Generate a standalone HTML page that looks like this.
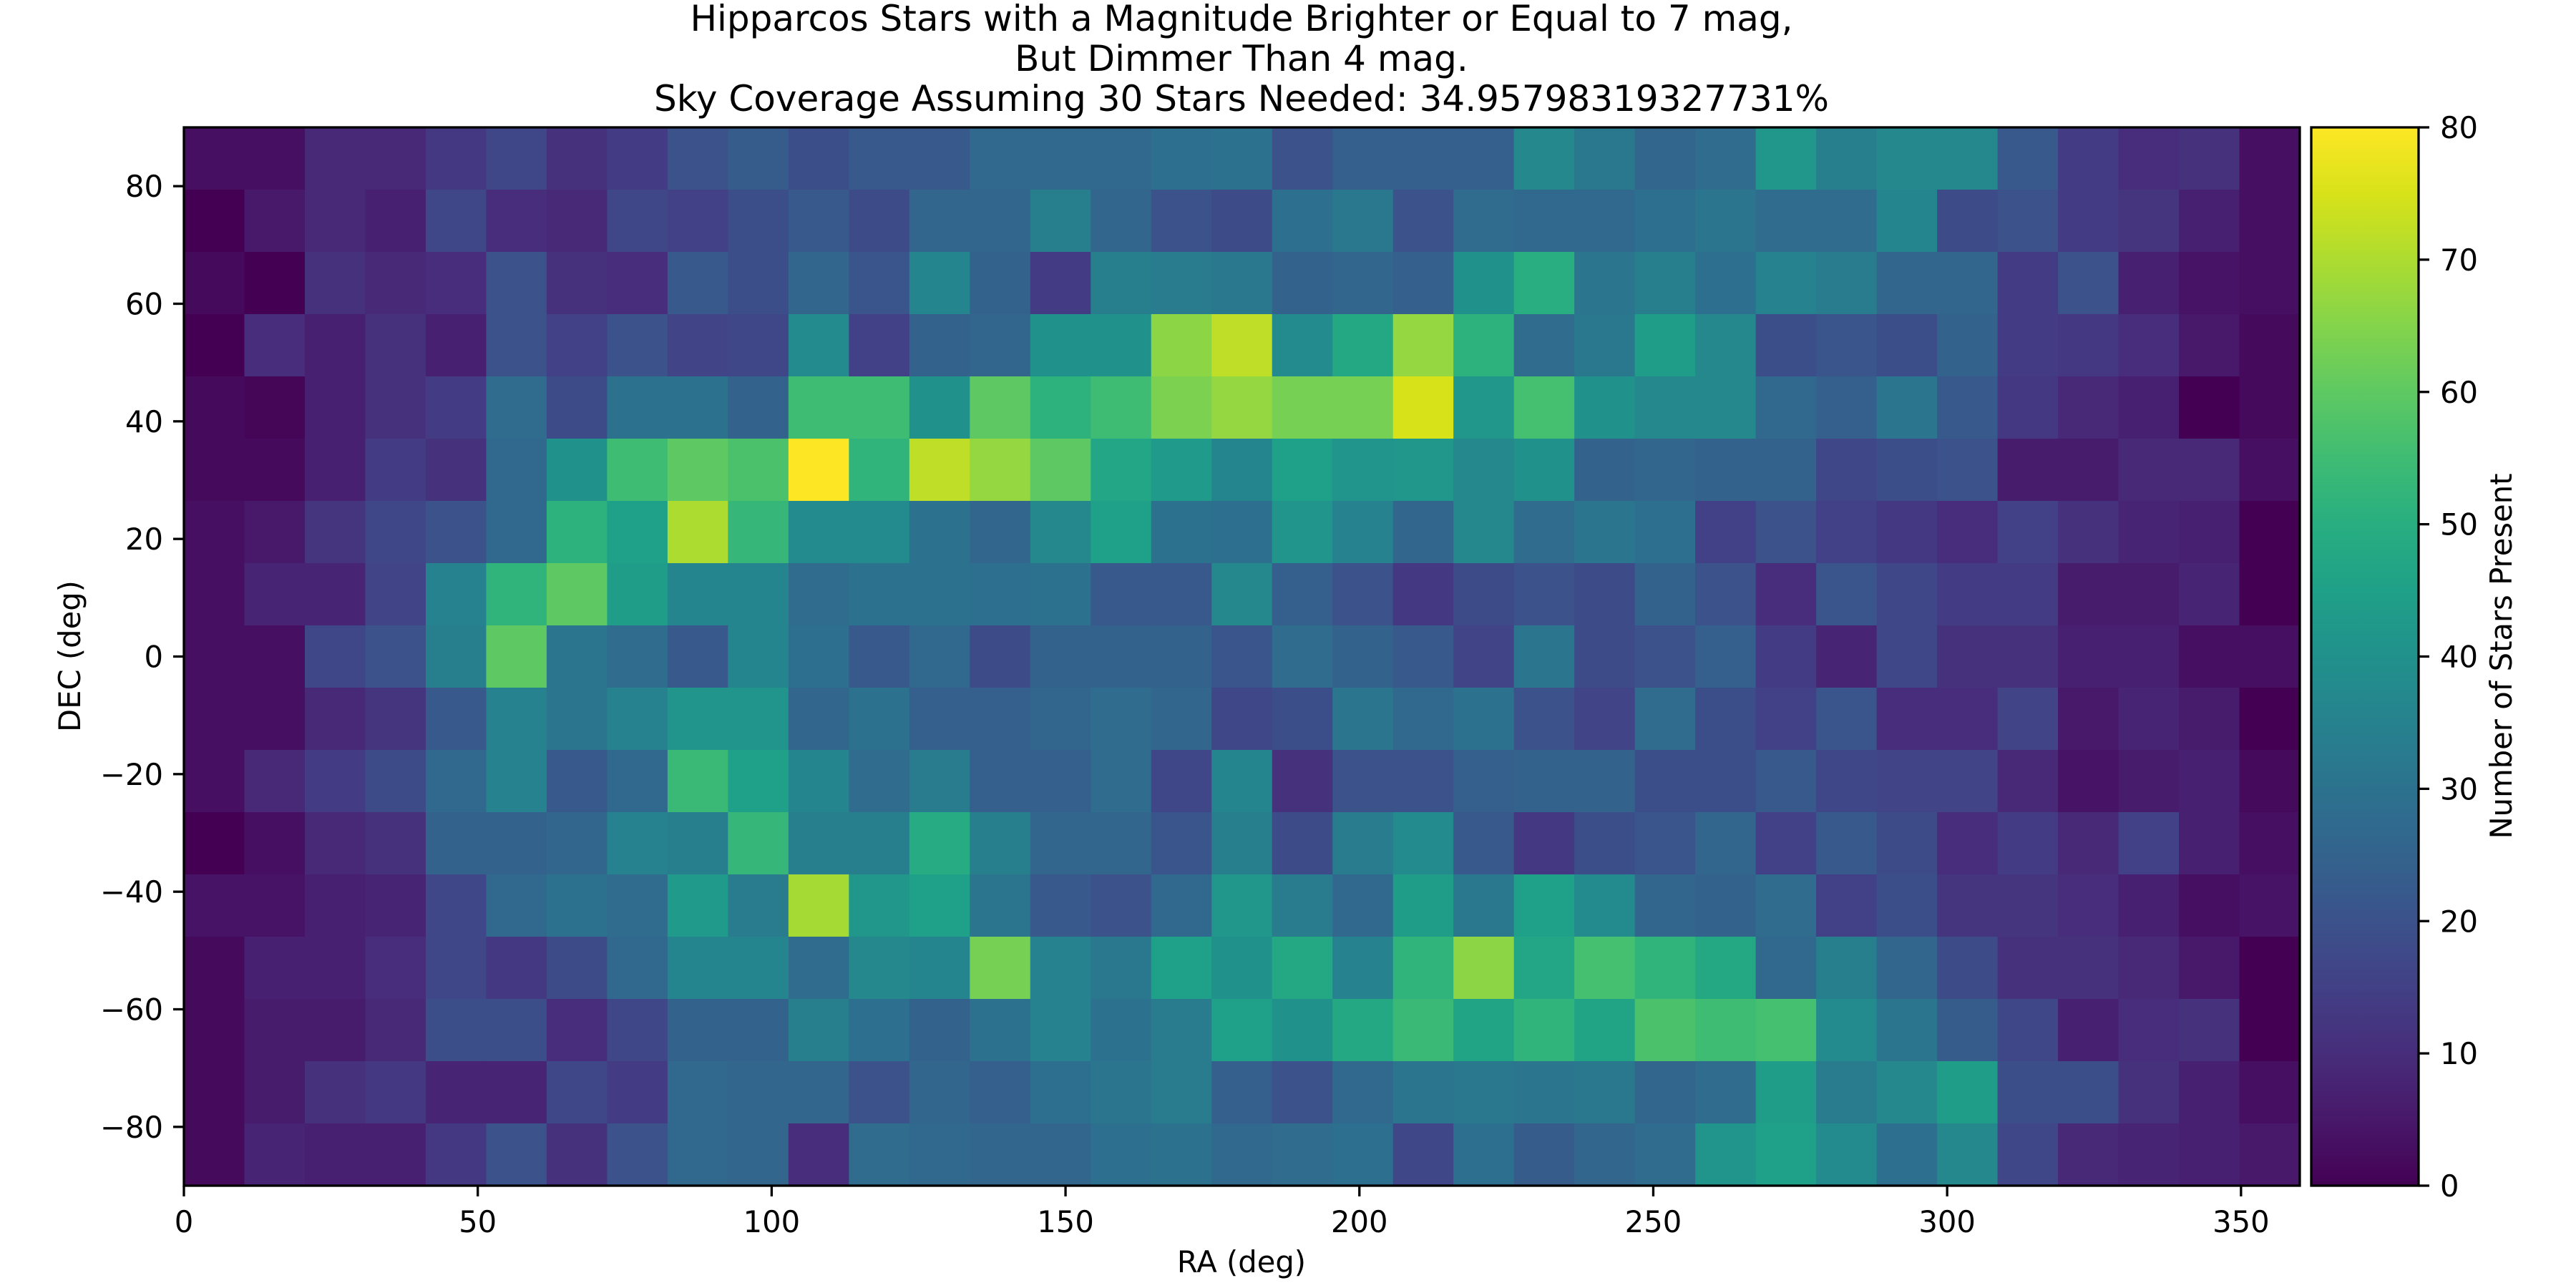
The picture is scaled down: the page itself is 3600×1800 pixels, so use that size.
<!DOCTYPE html>
<html><head><meta charset="utf-8"><style>
html,body{margin:0;padding:0;background:#fff;}
svg{display:block;font-family:"DejaVu Sans","Liberation Sans",sans-serif;}
</style></head><body>
<svg id="chart" width="3600" height="1800" viewBox="0 0 3600 1800" xmlns="http://www.w3.org/2000/svg">
<defs>
<linearGradient id="vir" x1="0" y1="1" x2="0" y2="0">
<stop offset="0" stop-color="#440154"/><stop offset="0.0625" stop-color="#48186a"/><stop offset="0.125" stop-color="#472d7b"/><stop offset="0.1875" stop-color="#424086"/><stop offset="0.25" stop-color="#3b528b"/><stop offset="0.3125" stop-color="#33638d"/><stop offset="0.375" stop-color="#2c728e"/><stop offset="0.4375" stop-color="#26828e"/><stop offset="0.5" stop-color="#21918c"/><stop offset="0.5625" stop-color="#1fa088"/><stop offset="0.625" stop-color="#28ae80"/><stop offset="0.6875" stop-color="#3fbc73"/><stop offset="0.75" stop-color="#5ec962"/><stop offset="0.8125" stop-color="#84d44b"/><stop offset="0.875" stop-color="#addc30"/><stop offset="0.9375" stop-color="#d8e219"/><stop offset="1" stop-color="#fde725"/>
</linearGradient>
</defs>
<g font-size="50" text-anchor="middle" fill="#000">
<text x="1735" y="43">Hipparcos Stars with a Magnitude Brighter or Equal to 7 mag,</text>
<text x="1735" y="99">But Dimmer Than 4 mag.</text>
<text x="1735" y="155">Sky Coverage Assuming 30 Stars Needed: 34.95798319327731%</text>
</g>
<g id="cells"></g>
<rect x="257" y="178" width="2957" height="1479" fill="none" stroke="#000" stroke-width="3.3"/>
<g id="xticks"></g>
<g id="yticks"></g>
<text x="1735" y="1778" font-size="41.7" text-anchor="middle">RA (deg)</text>
<text transform="translate(112,917) rotate(-90)" font-size="41.7" text-anchor="middle">DEC (deg)</text>
<rect x="3230" y="178" width="150" height="1479" fill="url(#vir)" stroke="#000" stroke-width="3.3"/>
<g id="cticks"></g>
<text transform="translate(3510,917) rotate(-90)" font-size="41.7" text-anchor="middle">Number of Stars Present</text>
</svg>
<script>
const raTicks = [0, 50, 100, 150, 200, 250, 300, 350];
const decTicks = [-80, -60, -40, -20, 0, 20, 40, 60, 80];
const cbTicks = [0, 10, 20, 30, 40, 50, 60, 70, 80];
const raRange = [0, 360];
const decRange = [-90, 90];
const cRange = [0, 80];
// counts per cell, rows from DEC +90 (top) down to -90, columns RA 0 -> 360
const row0 = [3,3,9,9,13,17,11,14,20,23,19,22,22,27,27,27,29,30,20,24,24,24,37,32,26,28,42,34,37,37,22,14,10,11,3];
const row1 = [0,5,9,7,17,10,9,17,15,19,22,18,26,26,34,26,20,18,29,32,20,28,27,27,29,31,28,28,36,18,20,14,12,7,3];
const row2 = [2,0,11,9,10,20,11,10,22,19,26,21,36,25,14,34,33,32,25,26,24,40,50,31,34,29,35,33,26,26,14,20,7,4,3];
const row3 = [0,10,7,11,7,20,15,20,16,17,38,15,25,26,40,40,66,72,38,48,67,51,28,32,44,37,19,21,19,25,14,13,10,5,2];
const row4 = [2,1,7,11,14,28,18,30,30,25,55,55,40,60,51,55,64,67,63,63,75,42,56,40,37,37,27,24,31,22,13,9,7,0,2];
const row5 = [2,2,7,14,11,27,40,55,60,57,80,52,72,67,60,47,43,36,45,41,42,37,40,25,26,25,25,17,19,20,6,6,9,9,3];
const row6 = [3,5,12,17,20,27,51,45,70,53,38,38,30,26,37,45,30,29,41,35,26,37,28,31,29,15,20,15,13,10,15,11,8,7,0];
const row7 = [3,8,8,16,35,52,60,44,36,36,28,30,30,29,30,22,22,37,24,20,13,18,20,18,25,20,10,21,17,14,14,6,6,8,0];
const row8 = [3,3,17,20,34,60,31,28,22,36,29,22,27,18,25,25,25,21,28,25,22,16,31,18,20,24,14,8,17,11,11,7,7,3,3];
const row9 = [3,3,9,12,22,35,31,35,41,41,26,30,24,24,26,28,26,17,19,31,27,30,20,16,28,19,15,21,10,10,16,5,8,6,0];
const row10 = [3,9,14,18,27,35,22,27,54,45,36,28,33,24,24,28,17,36,11,20,20,24,25,25,19,19,22,17,16,16,9,4,6,7,2];
const row11 = [0,3,9,11,25,25,26,35,34,53,34,34,49,34,26,26,21,34,18,33,38,22,13,19,21,26,15,22,18,10,14,9,15,7,3];
const row12 = [4,4,7,8,17,27,30,28,43,33,69,42,45,31,22,20,27,42,33,27,44,32,45,38,26,25,28,15,19,12,12,10,7,3,4];
const row13 = [2,7,7,10,17,13,18,27,36,36,28,37,36,63,35,32,45,40,48,35,52,66,47,56,52,48,27,34,26,18,11,11,9,5,0];
const row14 = [2,6,6,9,19,19,10,17,25,25,34,29,25,30,35,30,33,45,40,48,54,46,52,46,57,55,56,38,31,23,17,7,10,11,0];
const row15 = [2,6,11,13,8,8,17,14,27,26,26,20,26,24,29,31,33,24,20,27,31,32,31,32,26,28,44,33,37,44,19,19,11,7,3];
const row16 = [2,8,7,7,13,20,11,20,27,26,10,28,27,26,26,29,30,27,28,29,17,29,23,26,28,41,45,38,29,37,17,9,8,7,5];
const counts = [row0,row1,row2,row3,row4,row5,row6,row7,row8,row9,row10,row11,row12,row13,row14,row15,row16];

const PX0 = 257, PX1 = 3214, PY0 = 178, PY1 = 1657;
function xScale(v){ return PX0 + (v - raRange[0]) / (raRange[1] - raRange[0]) * (PX1 - PX0); }
function yScale(v){ return PY1 - (v - decRange[0]) / (decRange[1] - decRange[0]) * (PY1 - PY0); }
function cScale(v){ return PY1 - (v - cRange[0]) / (cRange[1] - cRange[0]) * (PY1 - PY0); }
const VIR = ["#440154","#48186a","#472d7b","#424086","#3b528b","#33638d","#2c728e","#26828e","#21918c","#1fa088","#28ae80","#3fbc73","#5ec962","#84d44b","#addc30","#d8e219","#fde725"];
function hex(h){ return [parseInt(h.substr(1,2),16),parseInt(h.substr(3,2),16),parseInt(h.substr(5,2),16)]; }
function viridis(v){
  let t = Math.max(0, Math.min(1, (v - cRange[0]) / (cRange[1] - cRange[0]))) * 16;
  let i = Math.min(15, Math.floor(t)), f = t - i;
  const a = hex(VIR[i]), b = hex(VIR[i+1]);
  return "rgb(" + a.map((c,k)=>Math.round(c + (b[k]-c)*f)).join(",") + ")";
}
const NS = "http://www.w3.org/2000/svg";
function mk(tag, attrs, parent){ const e = document.createElementNS(NS, tag); for (const k in attrs) e.setAttribute(k, attrs[k]); parent.appendChild(e); return e; }

const cells = document.getElementById("cells");
const nRows = counts.length;
counts.forEach((row, r) => {
  const nCols = row.length;
  const decHi = decRange[1] - r * (decRange[1]-decRange[0]) / nRows;
  const decLo = decRange[1] - (r+1) * (decRange[1]-decRange[0]) / nRows;
  row.forEach((v, c) => {
    const raLo = raRange[0] + c * (raRange[1]-raRange[0]) / nCols;
    const raHi = raRange[0] + (c+1) * (raRange[1]-raRange[0]) / nCols;
    const x0 = xScale(raLo), x1 = xScale(raHi), y0 = yScale(decHi), y1 = yScale(decLo);
    const el = mk("rect", {x: x0, y: y0, width: x1 - x0 + 0.6, height: y1 - y0 + 0.6, fill: viridis(v)}, cells);
    
    
  });
});

const xt = document.getElementById("xticks");
raTicks.forEach(v => {
  const x = xScale(v);
  const l = mk("line", {x1: x, x2: x, y1: PY1, y2: PY1 + 15, stroke: "#000", "stroke-width": 3.3}, xt);
  
  
  const t = mk("text", {x: x, y: 1722, "font-size": 41.7, "text-anchor": "middle"}, xt);
  t.textContent = String(v);
  
  
});
const yt = document.getElementById("yticks");
decTicks.forEach(v => {
  const y = yScale(v);
  const l = mk("line", {x1: PX0 - 15, x2: PX0, y1: y, y2: y, stroke: "#000", "stroke-width": 3.3}, yt);
  
  
  const t = mk("text", {x: 228, y: y + 15, "font-size": 41.7, "text-anchor": "end"}, yt);
  t.textContent = v < 0 ? "\u2212" + Math.abs(v) : String(v);
  
  
});
const ct = document.getElementById("cticks");
cbTicks.forEach(v => {
  const y = cScale(v);
  const l = mk("line", {x1: 3380, x2: 3395, y1: y, y2: y, stroke: "#000", "stroke-width": 3.3}, ct);
  
  
  const t = mk("text", {x: 3410, y: y + 15, "font-size": 41.7, "text-anchor": "start"}, ct);
  t.textContent = String(v);
  
  
});
</script>
</body></html>
